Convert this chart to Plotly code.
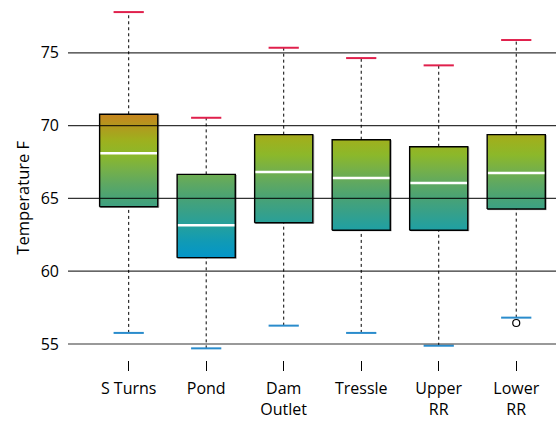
import plotly.graph_objects as go

# ---- data ----
categories = ["S Turns", "Pond", "Dam<br>Outlet", "Tressle", "Upper<br>RR", "Lower<br>RR"]
lower_whisker = [55.76, 54.70, 56.26, 55.76, 54.88, 56.81]
q1 = [64.43, 60.93, 63.33, 62.81, 62.81, 64.27]
median = [68.10, 63.15, 66.81, 66.40, 66.06, 66.74]
q3 = [70.78, 66.65, 69.38, 69.03, 68.55, 69.38]
upper_whisker = [77.80, 70.54, 75.35, 74.64, 74.14, 75.88]
outlier_cat = [6]
outlier_val = [56.44]
y_ticks = [55, 60, 65, 70, 75]

# ---- style ----
FONT = "Open Sans"
BOX_W = 0.75
CAP_W = 0.39
SH_DX = 0.016   # shadow offset (x units)
SH_DY = 0.05    # shadow offset (y units)
GRAD_START, GRAD_STOP = 60.0, 72.0
grad_colors = [
    (60.0, "#008fd0"), (61.0, "#0496c8"), (62.0, "#109ab6"), (63.0, "#22a0a0"),
    (64.0, "#36a08a"), (65.0, "#48a276"), (66.0, "#5ea862"), (67.0, "#76b048"),
    (68.0, "#8cb82a"), (69.0, "#9eb01e"), (70.0, "#b2981e"), (70.6, "#c4881e"),
    (72.0, "#cc801e"),
]
colorscale = [[(v - GRAD_START) / (GRAD_STOP - GRAD_START), c] for v, c in grad_colors]

fig = go.Figure()
xs = list(range(1, len(categories) + 1))

for i, x in enumerate(xs):
    # whiskers
    fig.add_trace(go.Scatter(x=[x, x], y=[q3[i], upper_whisker[i]], mode="lines",
                             line=dict(color="black", width=1, dash="3px,3px"),
                             hoverinfo="skip", showlegend=False))
    fig.add_trace(go.Scatter(x=[x, x], y=[lower_whisker[i], q1[i]], mode="lines",
                             line=dict(color="black", width=1, dash="3px,3px"),
                             hoverinfo="skip", showlegend=False))
    # caps
    fig.add_trace(go.Scatter(x=[x - CAP_W / 2, x + CAP_W / 2], y=[upper_whisker[i]] * 2,
                             mode="lines", line=dict(color="#e0204c", width=2),
                             hoverinfo="skip", showlegend=False))
    fig.add_trace(go.Scatter(x=[x - CAP_W / 2, x + CAP_W / 2], y=[lower_whisker[i]] * 2,
                             mode="lines", line=dict(color="#2a8ccc", width=2),
                             hoverinfo="skip", showlegend=False))
    x0, x1 = x - BOX_W / 2, x + BOX_W / 2
    # soft shadow
    fig.add_trace(go.Scatter(x=[x0 + SH_DX, x1 + SH_DX, x1 + SH_DX, x0 + SH_DX, x0 + SH_DX],
                             y=[q1[i] - SH_DY, q1[i] - SH_DY, q3[i] - SH_DY, q3[i] - SH_DY, q1[i] - SH_DY],
                             mode="lines", fill="toself", fillcolor="rgba(0,0,0,0.22)",
                             line=dict(color="rgba(0,0,0,0.18)", width=1),
                             hoverinfo="skip", showlegend=False))
    # box with vertical gradient
    fig.add_trace(go.Scatter(x=[x0, x1, x1, x0, x0], y=[q1[i], q1[i], q3[i], q3[i], q1[i]],
                             mode="lines", fill="toself",
                             fillgradient=dict(type="vertical", colorscale=colorscale,
                                               start=GRAD_START, stop=GRAD_STOP),
                             line=dict(color="black", width=1.4),
                             hoverinfo="skip", showlegend=False))
    # median
    fig.add_trace(go.Scatter(x=[x0 + 0.01, x1 - 0.01], y=[median[i]] * 2, mode="lines",
                             line=dict(color="white", width=2.5),
                             hoverinfo="skip", showlegend=False))

fig.add_trace(go.Scatter(x=outlier_cat, y=outlier_val, mode="markers",
                         marker=dict(symbol="circle-open", size=7, color="black",
                                     line=dict(width=1.2)),
                         hoverinfo="skip", showlegend=False))

# grid lines on top of boxes
for t in y_ticks:
    fig.add_shape(type="line", xref="paper", x0=0, x1=1, yref="y", y0=t, y1=t,
                  line=dict(color="rgba(0,0,0,0.8)", width=1.2), layer="above")

fig.add_annotation(text="Temperature F", xref="paper", yref="paper", x=-0.095, y=0.45,
                   textangle=-90, showarrow=False, xanchor="center", yanchor="middle",
                   font=dict(family=FONT, size=16.5, color="black"))

fig.update_layout(
    width=556, height=422,
    margin=dict(l=68, r=0, t=0, b=62),
    plot_bgcolor="white", paper_bgcolor="white",
    font=dict(family=FONT, size=16, color="black"),
    showlegend=False,
    xaxis=dict(range=[0.217, 6.513], tickmode="array", tickvals=xs, ticktext=categories,
               showgrid=False, zeroline=False, showline=False,
               ticks="outside", ticklen=10, tickwidth=1, tickcolor="black",
               ticklabelstandoff=4),
    yaxis=dict(range=[53.9, 78.63], tickmode="array", tickvals=y_ticks,
               showgrid=False, zeroline=False, showline=False,
               ticks="", ticklabelstandoff=8),
)

fig.write_html("out.html", config={"displayModeBar": False},
               post_script="document.body.style.margin='0';document.body.style.overflow='hidden';")
